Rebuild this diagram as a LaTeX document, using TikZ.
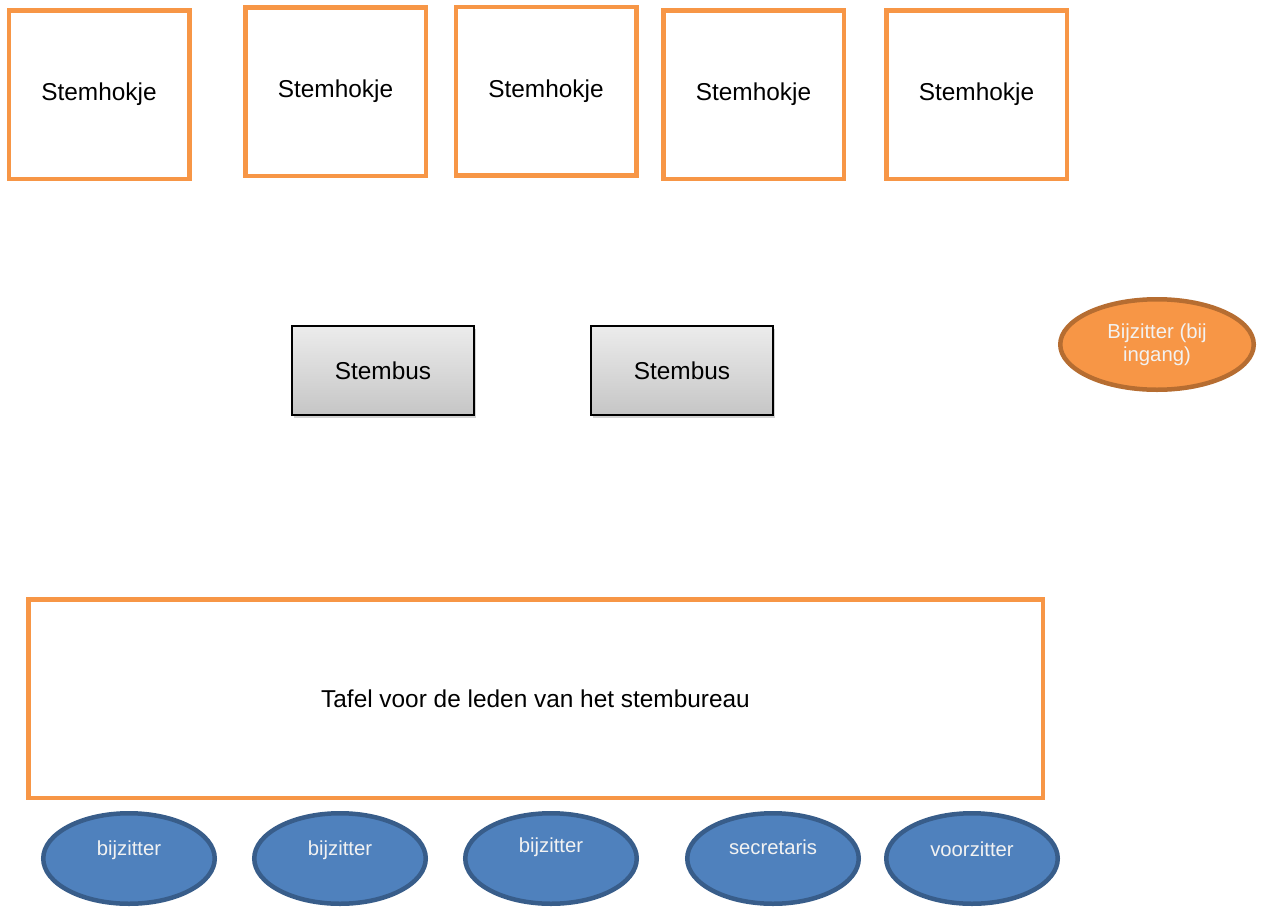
\documentclass[tikz,border=0pt]{standalone}
\usepackage{fontspec}
\setmainfont{Liberation Sans}
\usetikzlibrary{shapes.geometric,shadows}
\definecolor{orangeB}{HTML}{F79646}
\definecolor{orangeD}{HTML}{B66D31}
\definecolor{blueF}{HTML}{4F81BD}
\definecolor{blueD}{HTML}{385D8A}
\definecolor{txtw}{HTML}{F2F2F2}
\tikzset{
  hokje/.style={draw=orangeB, line width=4.5pt, fill=white, rectangle, inner sep=0pt,
    minimum width=180.5pt, minimum height=168.5pt, font=\fontsize{24.4}{28}\selectfont},
  busbox/.style={draw=black, line width=2pt, rectangle, inner sep=0pt,
    top color=gray!15, bottom color=gray!45,
    drop shadow={shadow xshift=2pt, shadow yshift=-3pt, opacity=0.35},
    minimum width=182pt, minimum height=89pt, font=\fontsize{24.4}{28}\selectfont},
  tafel/.style={draw=orangeB, line width=4.5pt, rectangle, inner sep=0pt,
    minimum width=1014.5pt, minimum height=198.5pt, font=\fontsize{24.4}{28}\selectfont},
  orell/.style={ellipse, draw=orangeD, line width=4.5pt, fill=orangeB, inner sep=0pt,
    minimum width=193.5pt, minimum height=90.5pt, text=txtw, align=center,
    font=\fontsize{20.3}{22.5}\selectfont},
  blell/.style={ellipse, draw=blueD, line width=4.5pt, fill=blueF, inner sep=0pt,
    minimum width=171.5pt, minimum height=90.5pt},
  bltxt/.style={text=txtw, font=\fontsize{20.3}{24}\selectfont, inner sep=0pt}
}
\begin{document}
\begin{tikzpicture}[x=1pt,y=-1pt]
\useasboundingbox (0,0) rectangle (1261,908);
\node[hokje] (h1) at (99,94.5) {Stemhokje};
\node[hokje] (h2) at (335.5,91.5) {Stemhokje};
\node[hokje] (h3) at (546,91) {Stemhokje};
\node[hokje] (h4) at (753.5,94.5) {Stemhokje};
\node[hokje] (h5) at (976.5,94.5) {Stemhokje};
\node[busbox] (s1) at (383,370.5) {Stembus};
\node[busbox] (s2) at (682,370.5) {Stembus};
\node[orell] (ing) at (1157,344.5) {Bijzitter (bij\\ingang)};
\node[tafel] (taf) at (535.5,698.5) {Tafel voor de leden van het stembureau};
\node[blell] (b1) at (129,858.5) {};
\node[blell] (b2) at (340,858.5) {};
\node[blell] (b3) at (551,858.5) {};
\node[blell] (b4) at (773,858.5) {};
\node[blell] (b5) at (972,858.5) {};
\node[bltxt] (t1) at (129,850) {bijzitter};
\node[bltxt] (t2) at (340,850) {bijzitter};
\node[bltxt] (t3) at (551,847) {bijzitter};
\node[bltxt] (t4) at (773,847) {secretaris};
\node[bltxt] (t5) at (972,849) {voorzitter};
\end{tikzpicture}
\end{document}
